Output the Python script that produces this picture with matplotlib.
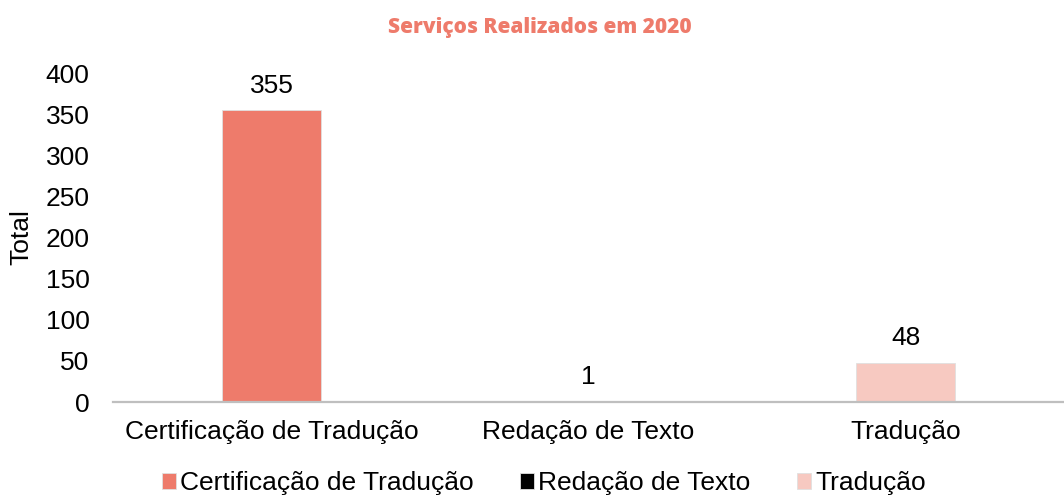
#!/usr/bin/env python
# -*- coding: utf-8 -*-

import matplotlib
matplotlib.use('Agg')
import matplotlib.pyplot as plt

categories = ['Certificação de Tradução', 'Redação de Texto', 'Tradução']
totals = [355, 1, 48]
colors = ['#EE7B6B', '#000000', '#F7C9C1']
yticks = [0, 50, 100, 150, 200, 250, 300, 350, 400]


def main():
    plt.rcParams['font.family'] = ['Liberation Sans', 'DejaVu Sans']
    fig = plt.figure(figsize=(10.64, 4.98), dpi=100)
    ax = fig.add_axes([113 / 1064, 96 / 498, 1 - 113 / 1064, 329 / 498])

    x = range(len(categories))
    bars = ax.bar(x, totals, width=0.31, color=colors, edgecolor='#E0E0E0',
                  linewidth=0.6, label=categories)
    for b, v in zip(bars, totals):
        ax.annotate(str(v), (b.get_x() + b.get_width() / 2, v),
                    xytext=(0, 9), textcoords='offset points',
                    ha='center', va='bottom', fontsize=19)

    ax.set_xlim(-0.5, 2.5)
    ax.set_ylim(0, 400)
    ax.set_yticks(yticks)
    ax.set_xticks(list(x))
    ax.set_xticklabels(categories)
    ax.tick_params(axis='both', length=0, labelsize=19)
    ax.tick_params(axis='x', pad=13)
    ax.tick_params(axis='y', pad=17)
    for s in ['top', 'right', 'left']:
        ax.spines[s].set_visible(False)
    ax.spines['bottom'].set_color('#BFBFBF')
    ax.spines['bottom'].set_linewidth(1.6)
    ax.set_ylabel('Total', fontsize=19, labelpad=9)

    fig.text(0.507, 0.945, 'Serviços Realizados em 2020', ha='center',
             va='center', fontsize=15, fontweight='heavy', color='#EE7B6B',
             family=['Open Sans', 'DejaVu Sans'])

    fig.legend(handles=bars, labels=categories, loc='lower center',
               bbox_to_anchor=(0.511, -0.042), ncol=3, frameon=False,
               fontsize=19, handlelength=0.55, handleheight=0.55,
               handletextpad=0.15, columnspacing=1.75)

    plt.savefig('out.png', dpi=100)


if __name__ == '__main__':
    main()
